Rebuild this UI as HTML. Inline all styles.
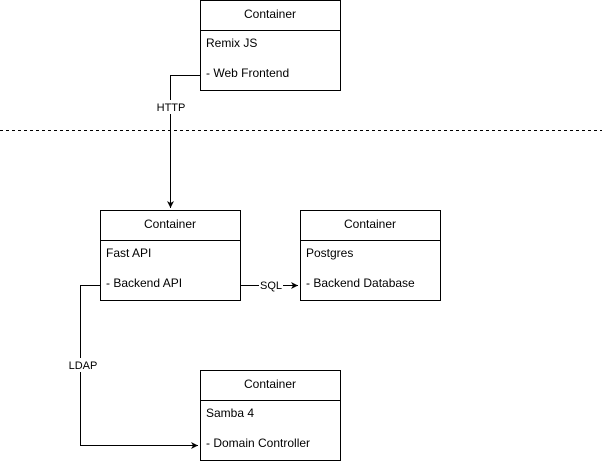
<!DOCTYPE html>
<html><head><style>body{margin:0;background:#fff}svg{display:block}text{font-family:"Liberation Sans",sans-serif;font-size:12px;fill:#000}</style></head>
<body>
<svg width="602" height="461" viewBox="0 0 602 461">
<defs><marker id="a" markerWidth="8" markerHeight="8" refX="7" refY="4" orient="auto" markerUnits="userSpaceOnUse"><path d="M0,0.5 L7,4 L0,7.5 L2,4 Z" fill="#000"/></marker></defs>
<line x1="0" y1="130.5" x2="602" y2="130.5" stroke="#000" stroke-dasharray="3,3"/>
<g fill="none" stroke="#000">
<rect x="200.5" y="0.5" width="140" height="90"/><line x1="200" y1="30.5" x2="341" y2="30.5"/>
<rect x="100.5" y="210.5" width="140" height="90"/><line x1="100" y1="240.5" x2="241" y2="240.5"/>
<rect x="300.5" y="210.5" width="140" height="90"/><line x1="300" y1="240.5" x2="441" y2="240.5"/>
<rect x="200.5" y="370.5" width="140" height="90"/><line x1="200" y1="400.5" x2="341" y2="400.5"/>
<path d="M200,75.5 H170.5 V208" marker-end="url(#a)"/>
<path d="M240,285.5 H298" marker-end="url(#a)"/>
<path d="M100,285.5 H80.5 V445.5 H198" marker-end="url(#a)"/>
</g>
<rect x="156" y="100" width="30" height="14" fill="#fff"/>
<text x="171" y="111" text-anchor="middle" style="font-size:11px">HTTP</text>
<rect x="259" y="278" width="24" height="14" fill="#fff"/>
<text x="271" y="289" text-anchor="middle" style="font-size:11px">SQL</text>
<rect x="66" y="358" width="34" height="14" fill="#fff"/>
<text x="83" y="369" text-anchor="middle" style="font-size:11px">LDAP</text>
<text x="270" y="18" text-anchor="middle">Container</text>
<text x="206" y="47">Remix JS</text><text x="206" y="77">- Web Frontend</text>
<text x="170" y="228" text-anchor="middle">Container</text>
<text x="106" y="257">Fast API</text><text x="106" y="287">- Backend API</text>
<text x="370" y="228" text-anchor="middle">Container</text>
<text x="306" y="257">Postgres</text><text x="306" y="287">- Backend Database</text>
<text x="270" y="388" text-anchor="middle">Container</text>
<text x="206" y="417">Samba 4</text><text x="206" y="447">- Domain Controller</text>
</svg>
</body></html>
